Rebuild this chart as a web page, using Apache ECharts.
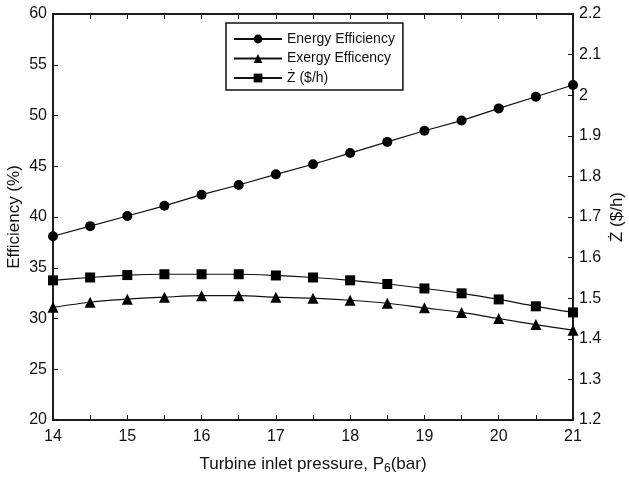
<!DOCTYPE html>
<html>
<head>
<meta charset="utf-8">
<script src="https://cdn.jsdelivr.net/npm/echarts@6/dist/echarts.min.js"></script>
<style>
html,body{margin:0;padding:0;background:#fff;}
#main{width:629px;height:477px;}
</style>
</head>
<body>
<div id="main"></div>
<script>
// 汽轮机入口压力 (bar)
var pressure = [14, 14.5, 15, 15.5, 16, 16.5, 17, 17.5, 18, 18.5, 19, 19.5, 20, 20.5, 21];
// 能效 / 㶲效率 (%)
var energyEff = [38.1, 39.1, 40.1, 41.1, 42.2, 43.15, 44.2, 45.2, 46.3, 47.4, 48.5, 49.5, 50.7, 51.85, 53.0];
var exergyEff = [31.1, 31.6, 31.9, 32.1, 32.25, 32.25, 32.1, 32.0, 31.8, 31.5, 31.05, 30.6, 30.0, 29.4, 28.85];
// 成本率 Ż ($/h)
var zdot = [1.544, 1.551, 1.557, 1.559, 1.559, 1.559, 1.556, 1.551, 1.544, 1.535, 1.524, 1.512, 1.497, 1.480, 1.465];

var pairs = function(xs, ys){
  var out = [];
  for(var i=0;i<xs.length;i++){
    out.push([xs[i], ys[i]]);
  }
  return out;
};

var FONT = 'Liberation Sans';
var lineStyle = {color:'#111', width:1.2};

var option = {
  animation:false,
  backgroundColor:'#fff',
  textStyle:{fontFamily:FONT, color:'#111'},
  grid:{left:53, right:56, top:14, bottom:57, outerBoundsMode:'none', containLabel:false,
    show:true, borderColor:'#111', borderWidth:1.5, backgroundColor:'transparent'},
  legend:{
    orient:'vertical', left:226, top:23,
    width:176,
    padding:[9,8,5,7],
    borderColor:'#111', borderWidth:1.5,
    itemWidth:48, itemHeight:11, itemGap:5.5,
    textStyle:{fontSize:14, fontFamily:FONT, color:'#111'},
    data:['Energy Efficiency','Exergy Efficency','Ż ($/h)']
  },
  xAxis:[{
    type:'value', min:14, max:21, interval:1, position:'bottom',
    name:'Turbine inlet pressure, P{sub|6}(bar)', nameLocation:'middle', nameGap:33,
    nameMoveOverlap:false,
    nameTextStyle:{fontSize:17, fontFamily:FONT, color:'#111',
      rich:{sub:{fontSize:12, fontFamily:FONT, color:'#111', padding:[10,0,0,0]}}},
    axisLine:{lineStyle:{color:'#111', width:1.5}},
    axisTick:{inside:true, length:5, lineStyle:{color:'#111'}},
    minorTick:{show:true, splitNumber:2, length:5, lineStyle:{color:'#111'}},
    axisLabel:{fontSize:16, margin:9, color:'#111'},
    splitLine:{show:false}
  },{
    type:'value', min:14, max:21, interval:1, position:'top',
    axisLine:{lineStyle:{color:'#111', width:1.5}},
    axisTick:{inside:true, length:5, lineStyle:{color:'#111'}},
    minorTick:{show:true, splitNumber:2, length:5, lineStyle:{color:'#111'}},
    axisLabel:{show:false},
    splitLine:{show:false}
  }],
  yAxis:[{
    type:'value', min:20, max:60, interval:5, position:'left',
    name:'Efficiency (%)', nameLocation:'middle', nameGap:30, nameRotate:90,
    nameMoveOverlap:false,
    nameTextStyle:{fontSize:17, fontFamily:FONT, color:'#111'},
    axisLine:{show:true, lineStyle:{color:'#111', width:1.5}},
    axisTick:{show:true, inside:true, length:5, lineStyle:{color:'#111'}},
    axisLabel:{fontSize:16, margin:6, color:'#111'},
    splitLine:{show:false}
  },{
    type:'value', min:1.2, max:2.2, interval:0.1, position:'right',
    name:'Ż ($/h)', nameLocation:'middle', nameGap:36, nameRotate:90,
    nameMoveOverlap:false,
    nameTextStyle:{fontSize:17, fontFamily:FONT, color:'#111'},
    axisLine:{show:true, lineStyle:{color:'#111', width:1.5}},
    axisTick:{show:true, inside:true, length:5, lineStyle:{color:'#111'}},
    axisLabel:{fontSize:16, margin:6, color:'#111',
      formatter:function(v){ return String(Math.round(v*10)/10); }},
    splitLine:{show:false}
  }],
  series:[{
    name:'Energy Efficiency', type:'line', xAxisIndex:0, yAxisIndex:0,
    data:pairs(pressure, energyEff),
    symbol:'circle', symbolSize:10,
    itemStyle:{color:'#000'}, lineStyle:lineStyle
  },{
    name:'Exergy Efficency', type:'line', xAxisIndex:0, yAxisIndex:0,
    data:pairs(pressure, exergyEff),
    symbol:'triangle', symbolSize:11, smooth:0.3,
    itemStyle:{color:'#000'}, lineStyle:lineStyle
  },{
    name:'Ż ($/h)', type:'line', xAxisIndex:0, yAxisIndex:1,
    data:pairs(pressure, zdot),
    symbol:'rect', symbolSize:10, smooth:0.3,
    itemStyle:{color:'#000'}, lineStyle:lineStyle
  }]
};

var myChart = echarts.init(document.getElementById('main'));
myChart.setOption(option);
</script>
</body>
</html>
